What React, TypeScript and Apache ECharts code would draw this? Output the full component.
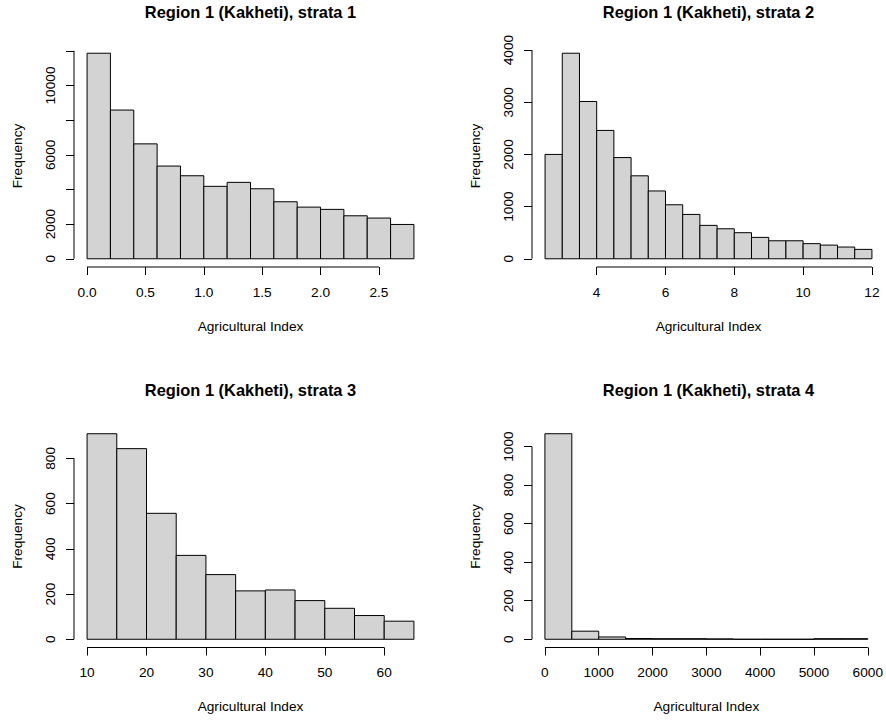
import React, { useEffect, useRef } from "react";
import * as echarts from "echarts";

// ---- data ----
const titles = [
  "Region 1 (Kakheti), strata 1",
  "Region 1 (Kakheti), strata 2",
  "Region 1 (Kakheti), strata 3",
  "Region 1 (Kakheti), strata 4",
];
const xTitle = "Agricultural Index";
const yTitle = "Frequency";

const strata1Breaks = [0, 0.2, 0.4, 0.6, 0.8, 1.0, 1.2, 1.4, 1.6, 1.8, 2.0, 2.2, 2.4, 2.6, 2.8];
const strata1Counts = [11860, 8580, 6630, 5350, 4790, 4180, 4410, 4040, 3290, 2980, 2850, 2480, 2350, 1980];

const strata2Breaks = [2.5, 3, 3.5, 4, 4.5, 5, 5.5, 6, 6.5, 7, 7.5, 8, 8.5, 9, 9.5, 10, 10.5, 11, 11.5, 12];
const strata2Counts = [2000, 3940, 3015, 2460, 1940, 1590, 1300, 1035, 850, 640, 575, 500, 410, 345, 345, 290, 262, 225, 180];

const strata3Breaks = [10, 15, 20, 25, 30, 35, 40, 45, 50, 55, 60, 65];
const strata3Counts = [909, 843, 557, 371, 286, 214, 218, 171, 137, 105, 80];

const strata4Breaks = [0, 500, 1000, 1500, 2000, 2500, 3000, 3500, 4000, 4500, 5000, 5500, 6000];
const strata4Counts = [1067, 42, 12, 4, 3, 3, 2, 0, 0, 0, 3, 3];

const xTicks1 = [0, 0.5, 1, 1.5, 2, 2.5];
const yTicks1 = [0, 2000, 4000, 6000, 8000, 10000, 12000];
const yLabels1 = [0, 2000, 6000, 10000];

const xTicks2 = [4, 6, 8, 10, 12];
const yTicks2 = [0, 1000, 2000, 3000, 4000];

const xTicks3 = [10, 20, 30, 40, 50, 60];
const yTicks3 = [0, 200, 400, 600, 800];

const xTicks4 = [0, 1000, 2000, 3000, 4000, 5000, 6000];
const yTicks4 = [0, 200, 400, 600, 800, 1000];

const panels = [
  { breaks: strata1Breaks, counts: strata1Counts, xTicks: xTicks1, xLabels: xTicks1, yTicks: yTicks1, yLabels: yLabels1, xFmt: (v: number) => v.toFixed(1) },
  { breaks: strata2Breaks, counts: strata2Counts, xTicks: xTicks2, xLabels: xTicks2, yTicks: yTicks2, yLabels: yTicks2, xFmt: (v: number) => String(v) },
  { breaks: strata3Breaks, counts: strata3Counts, xTicks: xTicks3, xLabels: xTicks3, yTicks: yTicks3, yLabels: yTicks3, xFmt: (v: number) => String(v) },
  { breaks: strata4Breaks, counts: strata4Counts, xTicks: xTicks4, xLabels: xTicks4, yTicks: yTicks4, yLabels: yTicks4, xFmt: (v: number) => String(v) },
];

// ---- layout ----
const grids = [
  { left: 74, top: 45, width: 353, height: 222 },
  { left: 532, top: 45, width: 353, height: 222 },
  { left: 74, top: 425.5, width: 353, height: 222 },
  { left: 532, top: 425.5, width: 353, height: 222 },
];
const titleTops = [4, 4, 382, 382];
const FONT = "'Liberation Sans', Arial, sans-serif";
const BASE = 13.7;

export default function App() {
  const ref = useRef<HTMLDivElement>(null);
  useEffect(() => {
    document.body.style.margin = "0";
    const chart = echarts.init(ref.current!, null, { renderer: "svg" });

    const xAxis: any[] = [];
    const yAxis: any[] = [];
    const series: any[] = [];
    const title: any[] = [];

    panels.forEach((p, i) => {
      const b0 = p.breaks[0];
      const b1 = p.breaks[p.breaks.length - 1];
      const xr = b1 - b0;
      const ymax = Math.max(...p.counts);
      const g = grids[i];
      xAxis.push({
        type: "value",
        gridIndex: i,
        min: b0 - 0.04 * xr,
        max: b1 + 0.04 * xr,
        axisLine: { show: false, onZero: false },
        splitLine: { show: false },
        axisTick: { show: true, customValues: p.xTicks, length: 8, lineStyle: { color: "#000", width: 1 } },
        axisLabel: {
          customValues: p.xLabels,
          formatter: (v: number) => p.xFmt(v),
          color: "#000",
          fontFamily: FONT,
          fontSize: BASE,
          margin: 18,
        },
        name: xTitle,
        nameLocation: "middle",
        nameGap: 52,
        nameTextStyle: { color: "#000", fontFamily: FONT, fontSize: BASE },
      });
      yAxis.push({
        type: "value",
        gridIndex: i,
        min: -0.04 * ymax,
        max: 1.04 * ymax,
        axisLine: { show: false, onZero: false },
        splitLine: { show: false },
        axisTick: { show: true, customValues: p.yTicks, length: 8, lineStyle: { color: "#000", width: 1 } },
        axisLabel: {
          customValues: p.yLabels,
          formatter: (v: number) => String(v),
          rotate: 90,
          color: "#000",
          fontFamily: FONT,
          fontSize: BASE,
          margin: 17,
        },
        name: yTitle,
        nameLocation: "middle",
        nameRotate: 90,
        nameGap: 50,
        nameTextStyle: { color: "#000", fontFamily: FONT, fontSize: BASE },
      });
      const bars = p.counts.map((c, k) => [p.breaks[k], p.breaks[k + 1], c]);
      series.push({
        type: "custom",
        xAxisIndex: i,
        yAxisIndex: i,
        silent: true,
        encode: { x: [0, 1], y: 2 },
        data: bars,
        renderItem: (params: any, api: any) => {
          const pA = api.coord([api.value(0), 0]);
          const pB = api.coord([api.value(1), api.value(2)]);
          return {
            type: "rect",
            shape: { x: pA[0], y: pB[1], width: pB[0] - pA[0], height: pA[1] - pB[1] },
            style: { fill: "#D3D3D3", stroke: "#000", lineWidth: 1 },
          };
        },
      });
      series.push({
        type: "custom",
        xAxisIndex: i,
        yAxisIndex: i,
        silent: true,
        clip: false,
        encode: { x: [0, 1], y: [2, 3] },
        data: [[p.xTicks[0], p.xTicks[p.xTicks.length - 1], p.yTicks[0], p.yTicks[p.yTicks.length - 1]]],
        renderItem: (params: any, api: any) => {
          const cs = params.coordSys;
          const xa = api.coord([api.value(0), 0])[0];
          const xb = api.coord([api.value(1), 0])[0];
          const ya = api.coord([0, api.value(2)])[1];
          const yb = api.coord([0, api.value(3)])[1];
          const bottom = cs.y + cs.height;
          const left = cs.x;
          return {
            type: "group",
            children: [
              { type: "line", shape: { x1: xa, y1: bottom, x2: xb, y2: bottom }, style: { stroke: "#000", lineWidth: 1 } },
              { type: "line", shape: { x1: left, y1: ya, x2: left, y2: yb }, style: { stroke: "#000", lineWidth: 1 } },
            ],
          };
        },
      });
      title.push({
        text: titles[i],
        left: g.left + g.width / 2,
        top: titleTops[i],
        padding: 0,
        textAlign: "center",
        textStyle: { fontFamily: FONT, fontSize: 16.4, fontWeight: "bold", color: "#000" },
      });
    });

    chart.setOption({
      animation: false,
      backgroundColor: "#fff",
      title,
      grid: grids.map((g) => ({ ...g, containLabel: false })),
      xAxis,
      yAxis,
      series,
    });
    return () => chart.dispose();
  }, []);
  return <div ref={ref} style={{ width: 886, height: 721 }} />;
}
